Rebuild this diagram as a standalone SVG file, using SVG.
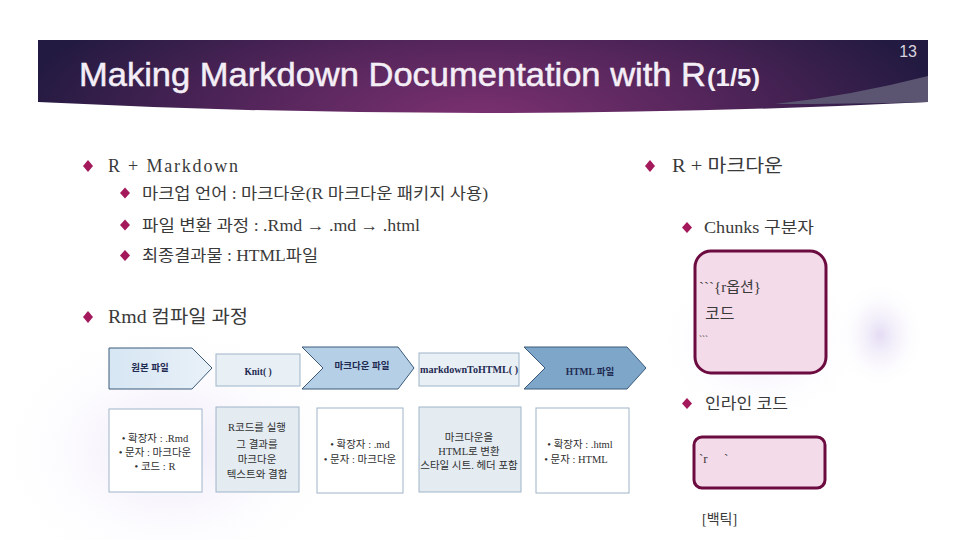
<svg xmlns="http://www.w3.org/2000/svg" width="960" height="540" viewBox="0 0 960 540">
<defs>
<radialGradient id="ban" cx="480" cy="120" r="470" gradientUnits="userSpaceOnUse" gradientTransform="translate(480 120) scale(1 0.35) translate(-480 -120)">
<stop offset="0" stop-color="#7c3170"/>
<stop offset="0.55" stop-color="#4f2458"/>
<stop offset="1" stop-color="#221a40"/>
</radialGradient>
<radialGradient id="glowA" cx="0.5" cy="0.5" r="0.5">
<stop offset="0" stop-color="#ece6f8" stop-opacity="0.9"/>
<stop offset="1" stop-color="#ffffff" stop-opacity="0"/>
</radialGradient>
<radialGradient id="glowB" cx="0.5" cy="0.5" r="0.5">
<stop offset="0" stop-color="#e4dcf4"/>
<stop offset="1" stop-color="#ffffff" stop-opacity="0"/>
</radialGradient>
<linearGradient id="ch1" x1="0" y1="0" x2="1" y2="0">
<stop offset="0" stop-color="#d6e6f3"/>
<stop offset="1" stop-color="#e9f1f8"/>
</linearGradient>
<style>
.t{font-family:"Liberation Serif","Noto Sans CJK KR",serif;fill:#3a3a3a}
.k{font-family:"Liberation Serif","Noto Sans CJK KR",serif;fill:#303030;font-size:10.5px;text-anchor:middle}
.d{fill:#a3195b}
.box{stroke:#9fb4c9;stroke-width:1}
.chv{stroke:#3b5a7a;stroke-width:1}
.cl{font-family:"Liberation Serif","Noto Sans CJK KR",serif;font-weight:bold;font-size:9.5px;fill:#1f2a52;text-anchor:middle}
.pink{fill:#f3dbe9;stroke:#6c0b40;stroke-width:3}
.ttl{font-family:"Liberation Sans Narrow","Liberation Sans",Arial,sans-serif;fill:#f4eef6}
</style>
</defs>
<rect width="960" height="540" fill="#ffffff"/>
<ellipse cx="170" cy="450" rx="190" ry="140" fill="url(#glowA)"/>
<ellipse cx="880" cy="335" rx="45" ry="55" fill="url(#glowB)"/>
<ellipse cx="760" cy="340" rx="110" ry="90" fill="url(#glowA)"/>

<g id="banner">
<path d="M38,40 H928 V102 Q480,124 38,102 Z" fill="url(#ban)"/>
<path d="M775,104 Q850,96 928,76 L928,102 Q850,104 775,104 Z" fill="#5b5572"/>
<text class="ttl" x="79" y="86" font-size="34" stroke="#f4eef6" stroke-width="0.5" textLength="627" lengthAdjust="spacingAndGlyphs">Making Markdown Documentation with R</text>
<text class="ttl" x="707" y="86" font-size="23" font-weight="bold" textLength="53" lengthAdjust="spacingAndGlyphs">(1/5)</text>
<text class="ttl" x="917" y="57" font-size="16" fill="#d8d4de" style="fill:#d8d4de" text-anchor="end">13</text>
</g>

<g id="left-bullets">
<path class="d" d="M88,160 l5,6 l-5,6 l-5,-6 Z"/>
<text class="t" x="108" y="172" font-size="18" textLength="130" lengthAdjust="spacing">R +  Markdown</text>
<path class="d" d="M125,187.5 l5,5.5 l-5,5.5 l-5,-5.5 Z"/>
<text class="t" x="142" y="199" font-size="16" textLength="346" lengthAdjust="spacingAndGlyphs">마크업 언어 : 마크다운(R 마크다운 패키지 사용)</text>
<path class="d" d="M125,219.5 l5,5.5 l-5,5.5 l-5,-5.5 Z"/>
<text class="t" x="142" y="231" font-size="16" textLength="278" lengthAdjust="spacingAndGlyphs">파일 변환 과정 : .Rmd → .md → .html</text>
<path class="d" d="M125,250 l5,5.5 l-5,5.5 l-5,-5.5 Z"/>
<text class="t" x="142" y="261" font-size="16" textLength="176" lengthAdjust="spacingAndGlyphs">최종결과물 : HTML파일</text>
<path class="d" d="M88,311 l5,6 l-5,6 l-5,-6 Z"/>
<text class="t" x="108" y="323" font-size="18" textLength="140" lengthAdjust="spacingAndGlyphs">Rmd 컴파일 과정</text>
</g>

<g id="right-bullets">
<path class="d" d="M650,160 l5,6 l-5,6 l-5,-6 Z"/>
<text class="t" x="672" y="172" font-size="18" textLength="111" lengthAdjust="spacingAndGlyphs">R +  마크다운</text>
<path class="d" d="M687,222 l5,5.5 l-5,5.5 l-5,-5.5 Z"/>
<text class="t" x="704" y="233" font-size="16" textLength="110" lengthAdjust="spacingAndGlyphs">Chunks 구분자</text>
<path class="d" d="M687,398 l5,5.5 l-5,5.5 l-5,-5.5 Z"/>
<text class="t" x="705" y="409" font-size="16" textLength="83" lengthAdjust="spacingAndGlyphs">인라인 코드</text>
<text class="t" x="702" y="524" font-size="14">[백틱]</text>
</g>

<g id="chunk-box">
<rect class="pink" x="695" y="251" width="131" height="122" rx="16"/>
<text class="t" x="699" y="292" font-size="15">```{r옵션}</text>
<text class="t" x="705" y="319" font-size="16">코드</text>
<text class="t" x="699" y="342" font-size="9">```</text>
</g>

<g id="inline-box">
<rect class="pink" x="694" y="437" width="131" height="51" rx="8"/>
<text class="t" x="699" y="463" font-size="13" xml:space="preserve">`r     `</text>
</g>

<g id="step1">
<polygon class="chv" points="109,348 192,348 212,368 192,389 109,389" fill="url(#ch1)"/>
<text class="cl" x="150" y="371">원본 파일</text>
</g>
<g id="step2">
<rect class="box" x="216" y="354" width="84" height="32" fill="#e8eff5"/>
<text class="cl" x="258" y="375">Knit( )</text>
</g>
<g id="step3">
<polygon class="chv" points="302,347 398,347 414,368 398,389 302,389 323,368" fill="#b5d0e6"/>
<text class="cl" x="362" y="369">마크다운 파일</text>
</g>
<g id="step4">
<rect class="box" x="419" y="353" width="100" height="33" fill="#e8eff5"/>
<text class="cl" x="469" y="373" textLength="98" lengthAdjust="spacingAndGlyphs">markdownToHTML( )</text>
</g>
<g id="step5">
<polygon class="chv" points="524,347 627,347 646,368 627,389 524,389 545,368" fill="#7ea6c8"/>
<text class="cl" x="590" y="375">HTML 파일</text>
</g>

<g id="desc1">
<rect class="box" x="109" y="409" width="93" height="83" fill="#ffffff"/>
<text class="k" x="155" y="442">• 확장자 : .Rmd</text>
<text class="k" x="155" y="456">• 문자 : 마크다운</text>
<text class="k" x="155" y="470">• 코드 : R</text>
</g>
<g id="desc2">
<rect class="box" x="216" y="407" width="83" height="85" fill="#e4ecf2"/>
<text class="k" x="257" y="431">R코드를 실행</text>
<text class="k" x="257" y="448">그 결과를</text>
<text class="k" x="257" y="463">마크다운</text>
<text class="k" x="257" y="478">텍스트와 결합</text>
</g>
<g id="desc3">
<rect class="box" x="317" y="408" width="86" height="85" fill="#ffffff"/>
<text class="k" x="360" y="448">• 확장자 : .md</text>
<text class="k" x="360" y="463">• 문자 : 마크다운</text>
</g>
<g id="desc4">
<rect class="box" x="419" y="407" width="102" height="85" fill="#e4ecf2"/>
<text class="k" x="469" y="441">마크다운을</text>
<text class="k" x="469" y="455">HTML로 변환</text>
<text class="k" x="469" y="469">스타일 시트. 헤더 포함</text>
</g>
<g id="desc5">
<rect class="box" x="536" y="408" width="93" height="85" fill="#ffffff"/>
<text class="k" x="580" y="448">• 확장자 : .html</text>
<text class="k" x="576" y="463">• 문자 : HTML</text>
</g>
</svg>
